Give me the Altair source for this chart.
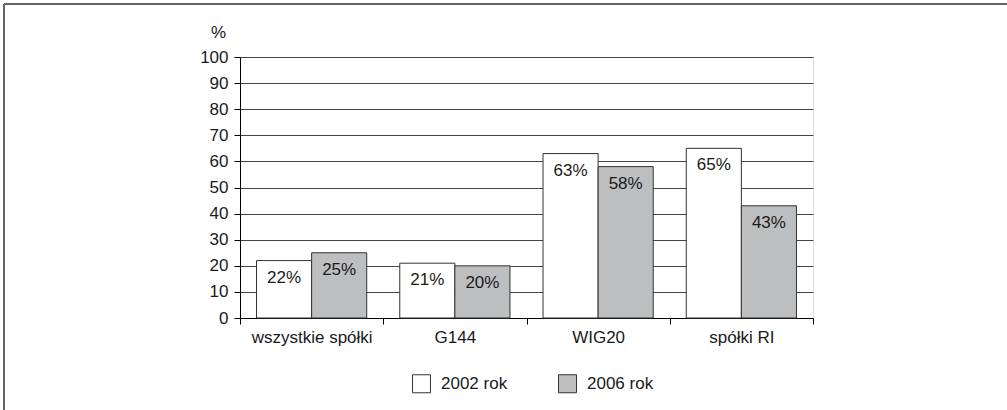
import altair as alt
import pandas as pd

# Share of companies per group, two survey years (percent)
categories = ["wszystkie spółki", "G144", "WIG20", "spółki RI"]
years = ["2002 rok", "2006 rok"]
y2002 = [22, 21, 63, 65]
y2006 = [25, 20, 58, 43]
y_ticks = [0, 10, 20, 30, 40, 50, 60, 70, 80, 90, 100]

rows = []
for c, a, b in zip(categories, y2002, y2006):
    rows.append({"kat": c, "rok": years[0], "val": a, "lab": f"{a}%"})
    rows.append({"kat": c, "rok": years[1], "val": b, "lab": f"{b}%"})
df = pd.DataFrame(rows)

W, H = 573, 261
FONT = "Liberation Sans"
FS = 17
INK = "#1a1a1a"

x_enc = alt.X(
    "kat:N",
    sort=categories,
    scale=alt.Scale(paddingInner=0, paddingOuter=0),
    axis=alt.Axis(
        title=None, labelAngle=0, tickBand="extent", tickSize=6,
        tickColor="black", domainColor="black", labelPadding=5,
        labelFontSize=FS, labelColor=INK, labelFont=FONT, grid=False,
    ),
)
xo_enc = alt.XOffset(
    "rok:N", sort=years, scale=alt.Scale(paddingInner=0, paddingOuter=0.3)
)
# tickCount must not be below the number of explicit values, or Vega thins them
y_enc = alt.Y(
    "val:Q",
    scale=alt.Scale(domain=[0, 100], nice=False),
    axis=alt.Axis(
        values=y_ticks, tickCount=len(y_ticks) + 1, labelOverlap=False,
        title="%", titleAngle=0,
        titleX=-22, titleY=-25, titleAlign="center", titleBaseline="middle",
        titleFontSize=FS, titleFontWeight="normal", titleFont=FONT, titleColor=INK,
        tickSize=6, tickColor="black", domainColor="black", labelPadding=6,
        labelFontSize=FS, labelFont=FONT, labelColor=INK,
        grid=True, gridColor="#444", gridWidth=1.2,
    ),
)

bars = alt.Chart(df).mark_bar(stroke="#333", strokeWidth=1).encode(
    x=x_enc,
    xOffset=xo_enc,
    y=y_enc,
    fill=alt.Fill(
        "rok:N",
        sort=years,
        scale=alt.Scale(domain=years, range=["#ffffff", "#bdbec0"]),
        legend=alt.Legend(
            title=None, orient="none", direction="horizontal",
            legendX=172, legendY=317, symbolType="square", symbolSize=324,
            symbolStrokeColor="#333", symbolStrokeWidth=1, labelFontSize=FS,
            labelFont=FONT, labelColor=INK, labelOffset=10, columnPadding=48,
        ),
    ),
)

labels = alt.Chart(df).mark_text(
    baseline="middle", dy=17, fontSize=FS, font=FONT, color=INK
).encode(x=x_enc, xOffset=xo_enc, y=y_enc, text="lab:N")

# outer frame: top and left edges only
frame_top = alt.Chart(df).mark_rule(color="#666", strokeWidth=1.5).encode(
    x=alt.value(-236), x2=alt.value(770), y=alt.value(-53)
)
frame_left = alt.Chart(df).mark_rule(color="#666", strokeWidth=1.5).encode(
    x=alt.value(-236), y=alt.value(-53), y2=alt.value(360)
)

chart = (
    alt.layer(bars, labels, frame_top, frame_left)
    .properties(
        width=W, height=H,
        autosize=alt.AutoSizeParams(type="none"),
        padding={"left": 240, "top": 57, "right": 194, "bottom": 92},
    )
    .configure_view(stroke="black", strokeWidth=1)
    .configure(background="white")
)

chart.save("out.html", embed_options={"renderer": "svg", "actions": False})
